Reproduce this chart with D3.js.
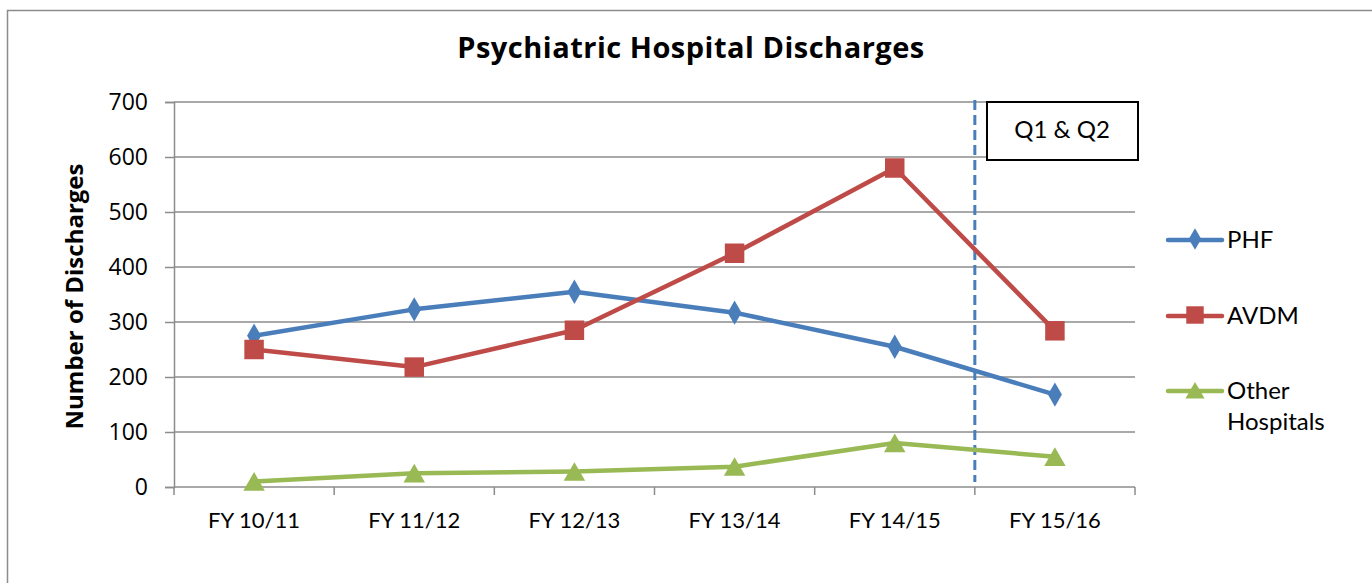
<!DOCTYPE html>
<html>
<head>
<meta charset="utf-8">
<script src="https://cdn.jsdelivr.net/npm/d3@7"></script>
<style>
  body { margin: 0; background: #fff; }
  svg { display: block; }
</style>
</head>
<body>
<div id="chart"></div>
<script>
// data
const categories = ['FY 10/11', 'FY 11/12', 'FY 12/13', 'FY 13/14', 'FY 14/15', 'FY 15/16'];
const phf = [275, 323, 355, 317, 255, 168];
const avdm = [250, 218, 285, 425, 580, 284];
const otherHospitals = [10, 25, 28, 37, 80, 55];
const yTicks = [0, 100, 200, 300, 400, 500, 600, 700];
const seriesNames = ['PHF', 'AVDM', 'Other Hospitals'];

const W = 1372, H = 583;
const plot = { left: 174, right: 1135, top: 102, bottom: 487 };

const svg = d3.select('#chart').append('svg')
  .attr('width', W).attr('height', H);

// outer frame
svg.append('rect')
  .attr('x', 7.5).attr('y', 10.5)
  .attr('width', W).attr('height', H)
  .attr('fill', 'none').attr('stroke', '#8c8c8c').attr('stroke-width', 1.5);

const x = d3.scaleBand().domain(categories).range([plot.left, plot.right]);
const y = d3.scaleLinear().domain([0, 700]).range([plot.bottom, plot.top]);

// gridlines
svg.append('g').selectAll('line')
  .data(yTicks.filter(d => d > 0))
  .enter().append('line')
  .attr('x1', plot.left).attr('x2', plot.right)
  .attr('y1', d => y(d)).attr('y2', d => y(d))
  .attr('stroke', '#8c8c8c').attr('stroke-width', 1.5);

// y axis
const yAxis = svg.append('g')
  .attr('transform', `translate(${plot.left},0)`)
  .call(d3.axisLeft(y).tickValues(yTicks).tickSize(9).tickPadding(17));
yAxis.select('.domain').attr('stroke', '#8c8c8c').attr('stroke-width', 1.5);
yAxis.selectAll('.tick line').attr('stroke', '#8c8c8c').attr('stroke-width', 1.5);
yAxis.selectAll('text')
  .style('font-family', '"Open Sans", "Noto Sans", sans-serif')
  .style('font-size', '23px').attr('fill', '#000');

// x axis: ticks on category boundaries
const xAxisG = svg.append('g').attr('transform', `translate(0,${plot.bottom})`);
xAxisG.append('line')
  .attr('x1', plot.left).attr('x2', plot.right)
  .attr('stroke', '#8c8c8c').attr('stroke-width', 1.5);
const bounds = categories.map(c => x(c)).concat([x(categories[categories.length - 1]) + x.bandwidth()]);
xAxisG.selectAll('.bt').data(bounds).enter().append('line')
  .attr('x1', d => d).attr('x2', d => d)
  .attr('y1', 0).attr('y2', 8)
  .attr('stroke', '#8c8c8c').attr('stroke-width', 1.5);
xAxisG.selectAll('text').data(categories).enter().append('text')
  .attr('x', d => x(d) + x.bandwidth() / 2)
  .attr('y', 41)
  .attr('text-anchor', 'middle')
  .style('font-family', 'Lato, sans-serif')
  .style('font-size', '22px')
  .text(d => d);

// title
svg.append('text')
  .attr('x', 691).attr('y', 58)
  .attr('text-anchor', 'middle')
  .style('font-family', '"Open Sans", sans-serif')
  .style('font-size', '29px').style('font-weight', 'bold')
  .style('letter-spacing', '0.5px')
  .text('Psychiatric Hospital Discharges');

// y axis title
svg.append('text')
  .attr('transform', `translate(83,${(plot.top + plot.bottom) / 2 + 2}) rotate(-90)`)
  .attr('text-anchor', 'middle')
  .style('font-family', '"Open Sans", "Noto Sans", sans-serif')
  .style('font-size', '24px').style('font-weight', 'bold')
  .text('Number of Discharges');

// dashed divider between FY 14/15 and FY 15/16
const divX = x(categories[5]);
svg.append('line')
  .attr('x1', divX).attr('x2', divX)
  .attr('y1', 100).attr('y2', 482)
  .attr('stroke', '#4a7ebb').attr('stroke-width', 3)
  .attr('stroke-dasharray', '10,5');

// Q1 & Q2 box
svg.append('rect')
  .attr('x', 987).attr('y', 102)
  .attr('width', 151).attr('height', 58)
  .attr('fill', '#fff').attr('stroke', '#000').attr('stroke-width', 2);
svg.append('text')
  .attr('x', 1062).attr('y', 138)
  .attr('text-anchor', 'middle')
  .style('font-family', 'Lato, sans-serif')
  .style('font-size', '24px')
  .text('Q1 & Q2');

const series = [
  { name: seriesNames[0], values: phf, color: '#4a7ebb', symbol: d3.symbolDiamond, size: 170, dy: 0 },
  { name: seriesNames[1], values: avdm, color: '#be4b48', symbol: d3.symbolSquare, size: 380, dy: 0 },
  { name: seriesNames[2], values: otherHospitals, color: '#98b954', symbol: d3.symbolTriangle, size: 200, dy: 3 }
];

const line = d3.line()
  .x((d, i) => x(categories[i]) + x.bandwidth() / 2)
  .y(d => y(d));

series.forEach(s => {
  svg.append('path')
    .datum(s.values)
    .attr('d', line)
    .attr('fill', 'none')
    .attr('stroke', s.color)
    .attr('stroke-width', 4.5)
    .attr('stroke-linejoin', 'round');
  svg.append('g').selectAll('path')
    .data(s.values)
    .enter().append('path')
    .attr('d', d3.symbol().type(s.symbol).size(s.size))
    .attr('transform', (d, i) => `translate(${x(categories[i]) + x.bandwidth() / 2},${y(d) + s.dy})`)
    .attr('fill', s.color);
});

// legend
const legendY = [240, 316, 391];
series.forEach((s, i) => {
  const g = svg.append('g').attr('transform', `translate(1168,${legendY[i]})`);
  g.append('line')
    .attr('x1', 0).attr('x2', 54)
    .attr('stroke', s.color).attr('stroke-width', 4.5).attr('stroke-linecap', 'round');
  g.append('path')
    .attr('d', d3.symbol().type(s.symbol).size(s.size * 0.8))
    .attr('transform', `translate(27,${s.dy - 1})`)
    .attr('fill', s.color);
  const t = g.append('text')
    .attr('x', 59).attr('y', 8)
    .style('font-family', 'Lato, sans-serif')
    .style('font-size', '24px');
  if (s.name === 'Other Hospitals') {
    t.append('tspan').attr('x', 59).attr('y', 8).text('Other');
    t.append('tspan').attr('x', 59).attr('y', 39).text('Hospitals');
  } else {
    t.text(s.name);
  }
});
</script>
</body>
</html>
